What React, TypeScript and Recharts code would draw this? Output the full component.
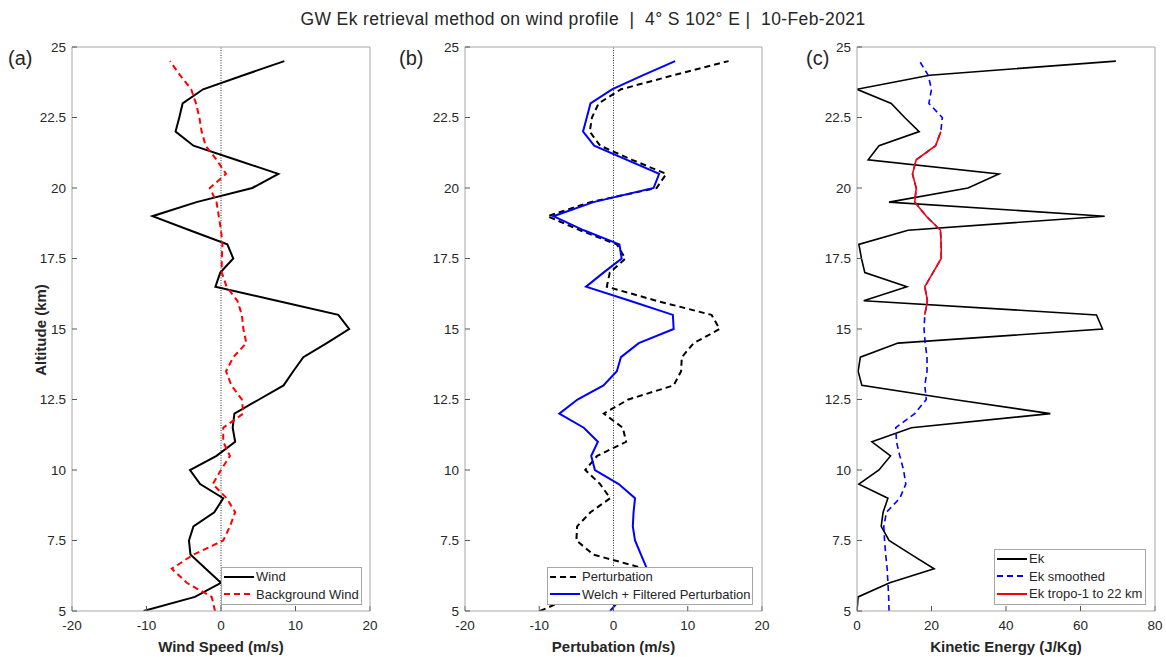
import { LineChart, Line, XAxis, YAxis, ReferenceLine, Legend } from "recharts";

// altitude levels (km)
const ALT = [
  5, 5.5, 6, 6.5, 7, 7.5, 8, 8.5, 9, 9.5, 10, 10.5, 11, 11.5, 12, 12.5, 13, 13.5, 14, 14.5,
  15, 15.5, 16, 16.5, 17, 17.5, 18, 18.5, 19, 19.5, 20, 20.5, 21, 21.5, 22, 22.5, 23, 23.5, 24, 24.5,
];

// (a) wind and background wind, m/s
const WIND = [
  -10.4, -3.5, 0.0, -2.05, -4.1, -4.3, -3.7, -0.9, 0.3, -2.8, -4.16, -0.6, 1.9, 1.57, 1.8, 5.1, 8.4, 9.7, 11.05, 14.2,
  17.2, 15.75, 7.5, -0.75, -0.1, 1.65, 0.85, -4.2, -9.2, -3.3, 4.2, 7.7, 2.0, -3.7, -6.1, -5.6, -5.15, -2.4, 3.0, 8.5,
];
const BG_WIND = [
  -0.8, -1.25, -4.6, -6.6, -3.7, 0.3, 1.2, 1.9, 0.76, -1.1, 0.0, 1.2, 0.3, 0.3, 3.0, 2.8, 1.4, 0.67, 1.65, 3.4,
  3.0, 2.8, 2.2, 0.75, 0.1, 0.1, 0.2, 0.0, -0.3, -0.6, -1.5, 0.67, -0.6, -2.06, -2.6, -2.9, -3.36, -4.0, -5.5, -6.85,
];

// (b) perturbation and Welch filtered perturbation, m/s
const PERTURB = [
  -9.9, -5.5, 0.5, 4.2, -2.7, -5.0, -4.9, -3.1, -0.45, -1.8, -3.8, -2.2, 1.7, 1.25, -1.3, 2.0, 8.1, 9.1, 9.2, 10.8,
  14.3, 13.2, 5.8, -0.9, -0.5, 1.6, 0.45, -4.5, -8.9, -3.1, 5.8, 7.1, 2.5, -1.8, -3.2, -2.9, -2.0, 1.0, 8.1, 15.5,
];
const WELCH = [
  -0.45, 1.2, 3.2, 4.5, 3.7, 2.9, 2.6, 2.7, 2.9, 0.7, -2.5, -3.0, -2.1, -4.0, -7.3, -4.85, -1.35, 0.45, 1.0, 3.4,
  8.1, 8.0, 2.2, -3.7, -1.35, 1.1, 0.8, -4.0, -8.1, -2.7, 5.4, 6.15, 1.8, -2.6, -4.1, -3.6, -3.1, -0.2, 4.0, 8.3,
];

// (c) kinetic energy, J/Kg
const EK = [
  0, 0.3, 8.8, 20.7, 14.6, 8.6, 6.5, 7.0, 8.3, 0.5, 5.9, 9.0, 4.0, 14.6, 51.9, 26, 1.3, 0.3, 0.9, 11.0,
  65.9, 64.3, 1.8, 13.4, 2.1, 1.2, 0.5, 13.7, 66.5, 8.6, 29.8, 38.1, 3.0, 5.9, 16.7, 12.8, 9.2, 0, 19.5, 69.5,
];
const EK_SMOOTH = [
  8.6, 8.5, 8.3, 8.1, 7.7, 7.4, 7.2, 7.9, 11.5, 13.1, 12.5, 11.5, 10.6, 10.4, 15.5, 18.6, 18.2, 18.8, 18.8, 18.3,
  18.0, 18.2, 18.9, 18.2, 20.4, 22.6, 22.6, 22.4, 18.6, 15.5, 15.9, 14.9, 15.9, 21.1, 22.5, 22.9, 19.3, 20.0, 19.1, 16.8,
];
const EK_TROPO = [
  null, null, null, null, null, null, null, null, null, null, null, null, null, null, null, null, null, null, null, null,
  null, 18.2, 18.9, 18.2, 20.4, 22.6, 22.6, 22.4, 18.6, 15.5, 15.9, 14.9, 15.9, 21.1, 22.5, null, null, null, null, null,
];

const Y_TICKS = [5, 7.5, 10, 12.5, 15, 17.5, 20, 22.5, 25];
const WIND_TICKS = [-20, -10, 0, 10, 20];
const EK_TICKS = [0, 20, 40, 60, 80];

const FONT = "'Liberation Sans', Arial, Helvetica, sans-serif";
const TEXT = "#262626";
const BOX = "#a6a6a6";
const DASH = "6 4";

const rows = ALT.map((alt, i) => ({
  alt,
  wind: WIND[i],
  bg: BG_WIND[i],
  perturb: PERTURB[i],
  welch: WELCH[i],
  ek: EK[i],
  smooth: EK_SMOOTH[i],
  tropo: EK_TROPO[i],
}));

type Series = { key: string; name: string; color: string; dash?: string; width: number };

const renderLegend = (items: Series[], width: number) => () => (
  <div style={{ width, background: "#fff", border: `1px solid ${BOX}`, boxSizing: "border-box", padding: "0 0 1px 0" }}>
    {items.map((it) => (
      <div key={it.key} style={{ display: "flex", alignItems: "center", height: 17.5 }}>
        <svg width={34} height={10} style={{ flex: "none" }}>
          <line x1={2} y1={5} x2={32} y2={5} stroke={it.color} strokeWidth={2} strokeDasharray={it.dash} />
        </svg>
        <span style={{ fontSize: 13, color: TEXT, fontFamily: FONT, whiteSpace: "nowrap" }}>{it.name}</span>
      </div>
    ))}
  </div>
);

type PanelProps = {
  plotLeft: number;
  plotWidth: number;
  domain: [number, number];
  xTicks: number[];
  xLabel: string;
  series: Series[];
  zeroLine: boolean;
  legendLeft: number;
  legendTop: number;
  legendWidth: number;
};

function Panel(p: PanelProps) {
  const chartLeft = p.plotLeft - 72;
  const width = 72 + p.plotWidth + 10;
  return (
    <div style={{ position: "absolute", left: chartLeft, top: 0 }}>
      <LineChart
        width={width}
        height={657}
        data={rows}
        layout="vertical"
        margin={{ top: 46, right: 9, bottom: 2, left: 32 }}
      >
        <XAxis
          type="number"
          domain={p.domain}
          ticks={p.xTicks}
          allowDataOverflow
          height={44}
          tickSize={-5}
          tickMargin={14}
          stroke={BOX}
          tickLine={{ stroke: "#555" }}
          tick={{ fontSize: 13.5, fill: TEXT }}
          label={{ value: p.xLabel, position: "insideBottom", offset: 3, fontSize: 15, fontWeight: "bold", fill: TEXT }}
        />
        <XAxis
          xAxisId="top"
          orientation="top"
          type="number"
          domain={p.domain}
          ticks={p.xTicks}
          allowDataOverflow
          height={1}
          tickSize={-5}
          stroke={BOX}
          tickLine={{ stroke: "#555" }}
          tick={false}
        />
        <YAxis
          type="number"
          dataKey="alt"
          domain={[5, 25]}
          ticks={Y_TICKS}
          reversed
          allowDataOverflow
          width={40}
          tickSize={-5}
          tickMargin={11}
          stroke={BOX}
          tickLine={{ stroke: "#555" }}
          tick={{ fontSize: 13.5, fill: TEXT }}
        />
        <YAxis
          yAxisId="right"
          orientation="right"
          type="number"
          dataKey="alt"
          domain={[5, 25]}
          ticks={Y_TICKS}
          reversed
          allowDataOverflow
          width={1}
          tickSize={-5}
          stroke={BOX}
          tickLine={{ stroke: "#555" }}
          tick={false}
        />
        {p.zeroLine && <ReferenceLine x={0} stroke="#333" strokeWidth={1} strokeDasharray="1 1.5" />}
        {p.series.map((s) => (
          <Line
            key={s.key}
            dataKey={s.key}
            name={s.name}
            stroke={s.color}
            strokeWidth={s.width}
            strokeDasharray={s.dash}
            dot={false}
            activeDot={false}
            isAnimationActive={false}
          />
        ))}
        <Legend
          layout="vertical"
          align="center"
          verticalAlign="middle"
          content={renderLegend(p.series, p.legendWidth)}
          wrapperStyle={{ left: p.legendLeft - chartLeft, top: p.legendTop, width: p.legendWidth, height: "auto" }}
        />
      </LineChart>
    </div>
  );
}

const SERIES_A: Series[] = [
  { key: "wind", name: "Wind", color: "#000000", width: 2 },
  { key: "bg", name: "Background Wind", color: "#ff0000", dash: DASH, width: 2 },
];
const SERIES_B: Series[] = [
  { key: "perturb", name: "Perturbation", color: "#000000", dash: DASH, width: 2 },
  { key: "welch", name: "Welch + Filtered Perturbation", color: "#0000ff", width: 2 },
];
const SERIES_C: Series[] = [
  { key: "ek", name: "Ek", color: "#000000", width: 1.6 },
  { key: "smooth", name: "Ek smoothed", color: "#0000ff", dash: DASH, width: 1.6 },
  { key: "tropo", name: "Ek tropo-1 to 22 km", color: "#ff0000", width: 1.6 },
];

const tagStyle = { position: "absolute" as const, top: 47, fontSize: 20, color: TEXT };

export default function App() {
  return (
    <div style={{ position: "absolute", left: 0, top: 0, width: 1166, height: 657, background: "#fff", fontFamily: FONT, overflow: "hidden" }}>
      <div
        style={{
          position: "absolute",
          left: 0,
          top: 9,
          width: 1166,
          textAlign: "center",
          fontSize: 17.5,
          letterSpacing: 0.4,
          color: TEXT,
          whiteSpace: "pre",
        }}
      >
        {"GW Ek retrieval method on wind profile  |  4° S 102° E |  10-Feb-2021"}
      </div>
      <div style={{ ...tagStyle, left: 8 }}>(a)</div>
      <div style={{ ...tagStyle, left: 399 }}>(b)</div>
      <div style={{ ...tagStyle, left: 806 }}>(c)</div>
      <div
        style={{
          position: "absolute",
          left: 40,
          top: 330,
          transform: "translate(-50%, -50%) rotate(-90deg)",
          fontSize: 15,
          fontWeight: "bold",
          color: TEXT,
          whiteSpace: "nowrap",
        }}
      >
        Altitude (km)
      </div>
      <Panel
        plotLeft={72}
        plotWidth={298}
        domain={[-20, 20]}
        xTicks={WIND_TICKS}
        xLabel="Wind Speed (m/s)"
        series={SERIES_A}
        zeroLine
        legendLeft={221}
        legendTop={567}
        legendWidth={141}
      />
      <Panel
        plotLeft={465}
        plotWidth={297}
        domain={[-20, 20]}
        xTicks={WIND_TICKS}
        xLabel="Pertubation (m/s)"
        series={SERIES_B}
        zeroLine
        legendLeft={547}
        legendTop={567}
        legendWidth={206}
      />
      <Panel
        plotLeft={857}
        plotWidth={298}
        domain={[0, 80]}
        xTicks={EK_TICKS}
        xLabel="Kinetic Energy (J/Kg)"
        series={SERIES_C}
        zeroLine={false}
        legendLeft={994}
        legendTop={549}
        legendWidth={152}
      />
    </div>
  );
}
